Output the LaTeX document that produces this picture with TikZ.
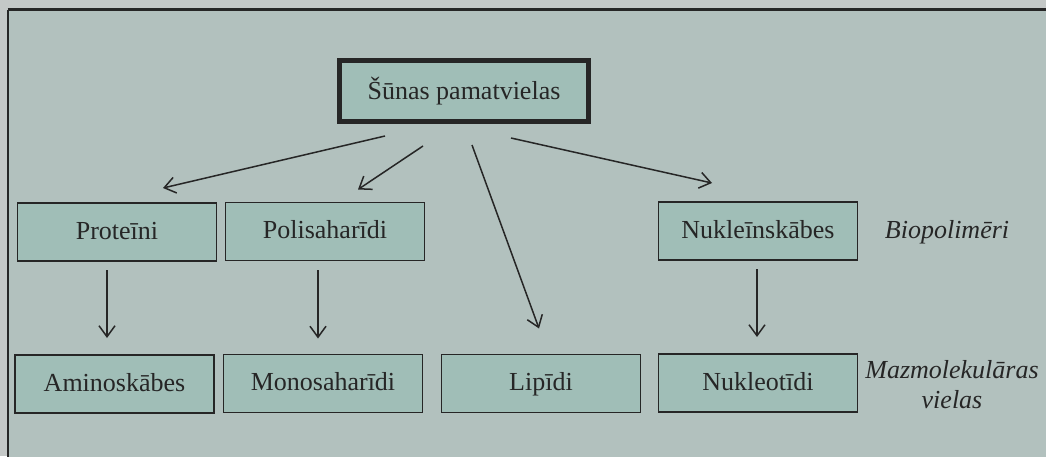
\documentclass[tikz,border=0pt]{standalone}
\usepackage{fontspec}
\setmainfont{Liberation Serif}
\usetikzlibrary{arrows.meta}
\definecolor{paper}{HTML}{C4C8C7}
\definecolor{panel}{HTML}{B2C1BE}
\definecolor{boxfill}{HTML}{A0BEB7}
\definecolor{ink}{HTML}{262626}
\begin{document}
\begin{tikzpicture}[x=1pt,y=-1pt,
  every node/.style={outer sep=0pt, text=ink, font=\fontsize{26}{30}\selectfont},
  item/.style={draw=ink, line width=1.1pt, fill=boxfill, minimum width=199pt, minimum height=58pt, inner sep=0pt, text height=19pt, text depth=5pt},
  rootbox/.style={draw=ink, line width=5pt, fill=boxfill, minimum width=249pt, minimum height=61pt, inner sep=0pt, text height=21pt, text depth=3pt},
  caption/.style={align=center, font=\fontsize{26}{30}\selectfont\itshape},
  arr/.style={draw=ink, line width=1.5pt, -{Straight Barb[length=11pt,width=16pt,line width=1.5pt]}}]
\useasboundingbox (0,0) rectangle (1046,456);
% page and framed panel
\fill[paper] (0,0) rectangle (1046,456);
\fill[panel] (7.5,9.5) rectangle (1050,460);
\draw[ink, line width=3pt] (7.5,9.5) -- (1050,9.5);
\draw[ink, line width=2pt] (7.5,9.5) -- (7.5,460);

% root
\node[rootbox] (root) at (464,90.5) {Šūnas pamatvielas};

% biopolymers
\node[item] (prot) at (117,232) {Proteīni};
\node[item] (poly) at (325,231.5) {Polisaharīdi};
\node[item] (nukl) at (758,231) {Nukleīnskābes};

% small molecules
\node[item] (amino) at (114.5,384) {Aminoskābes};
\node[item] (mono) at (323,383.5) {Monosaharīdi};
\node[item] (lip) at (541,383.5) {Lipīdi};
\node[item] (nukt) at (758,383) {Nukleotīdi};

% row captions
\node[caption] (bio) at (947,232) {Biopolimēri};
\node[caption] (mazm) at (952,385) {Mazmolekulāras\\vielas};

% arrows from the root
\draw[arr] ([shift={(-79,15)}]root.south) -- ([shift={(46,-15)}]prot.north);
\draw[arr] ([shift={(-41,25)}]root.south) -- ([shift={(33,-13)}]poly.north);
\draw[arr] ([shift={(8,24)}]root.south) -- ([shift={(-2,-26)}]lip.north);
\draw[arr] ([shift={(47,17)}]root.south) -- ([shift={(-46,-19)}]nukl.north);

% polymers to monomers
\draw[arr] ([shift={(-10,9)}]prot.south) -- ([shift={(-7.5,-17)}]amino.north);
\draw[arr] ([shift={(-7,9.5)}]poly.south) -- ([shift={(-5,-16)}]mono.north);
\draw[arr] ([shift={(-1,9)}]nukl.south) -- ([shift={(-1,-17)}]nukt.north);
\end{tikzpicture}
\end{document}
